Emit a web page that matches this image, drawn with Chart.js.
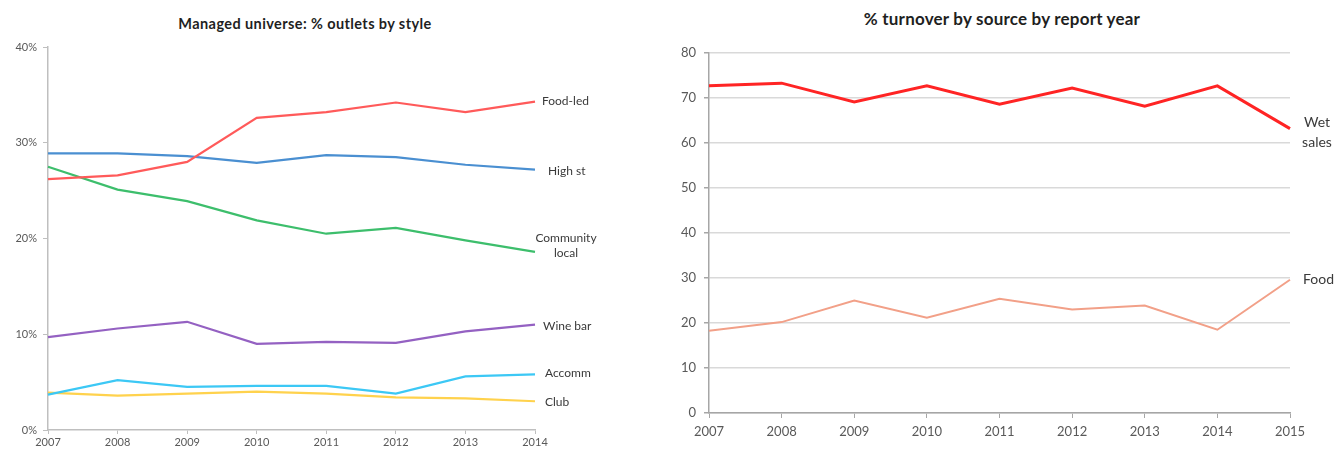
<!DOCTYPE html>
<html>
<head>
<meta charset="utf-8">
<script src="https://cdn.jsdelivr.net/npm/chart.js@4.4.1/dist/chart.umd.min.js"></script>
<style>
  body { margin: 0; background: #fff; width: 1336px; height: 449px; overflow: hidden; position: relative; font-family: Lato, sans-serif; }
  .box { position: absolute; top: 0; }
  .title { position: absolute; font-weight: bold; color: #1f1f1f; white-space: nowrap; transform: translate(-50%, -50%); }
</style>
</head>
<body>

<div class="title" style="left:305px; top:23px; font-size:14.5px; letter-spacing:0.4px;">Managed universe: % outlets by style</div>
<div class="title" style="left:1002px; top:18px; font-size:17px; letter-spacing:0.2px;">% turnover by source by report year</div>

<div class="box" style="left:0px"><canvas id="leftChart" width="640" height="449"></canvas></div>
<div class="box" style="left:640px"><canvas id="rightChart" width="696" height="449"></canvas></div>

<script>
// Left chart data

var styleYears = ['2007', '2008', '2009', '2010', '2011', '2012', '2013', '2014']
var foodLed = [26.2, 26.6, 28.0, 32.6, 33.2, 34.2, 33.2, 34.3]
var highSt = [28.9, 28.9, 28.6, 27.9, 28.7, 28.5, 27.7, 27.2]
var communityLocal = [27.5, 25.1, 23.9, 21.9, 20.5, 21.1, 19.8, 18.6]
var wineBar = [9.7, 10.6, 11.3, 9.0, 9.2, 9.1, 10.3, 11.0]
var accomm = [3.7, 5.2, 4.5, 4.6, 4.6, 3.8, 5.6, 5.8]
var club = [3.9, 3.6, 3.8, 4.0, 3.8, 3.4, 3.3, 3.0]
var styleTicks = [0, 10, 20, 30, 40]

// Right chart data

var reportYears = ['2007', '2008', '2009', '2010', '2011', '2012', '2013', '2014', '2015']
var wetSales = [72.7, 73.3, 69.1, 72.7, 68.6, 72.2, 68.2, 72.7, 63.2]
var food = [18.3, 20.2, 25.0, 21.2, 25.4, 23.0, 23.9, 18.5, 29.6]
var turnoverTicks = [0, 10, 20, 30, 40, 50, 60, 70, 80]

var axisGrey = '#BFBFBF'
var tickColor = '#595959'

// Draws each series name next to its last point

var endLabels = {
    id: 'endLabels',
    afterDatasetsDraw(chart, args, opts) {
        var ctx = chart.ctx
        var xScale = chart.scales.x
        var yScale = chart.scales.y
        ctx.save()
        ctx.fillStyle = opts.color
        ctx.font = opts.font
        ctx.textBaseline = 'middle'
        chart.data.datasets.forEach((ds, i) => {
            var n = ds.data.length - 1
            var px = xScale.getPixelForValue(n)
            var py = yScale.getPixelForValue(ds.data[n])
            var spec = opts.labels[i]
            ctx.textAlign = spec.align || 'left'
            spec.lines.forEach((line, j) => {
                ctx.fillText(line, px + spec.dx, py + spec.dy + j * opts.lineHeight)
            })
        })
        ctx.restore()
    }
}

function fixedWidth(w) {
    return scale => { scale.width = w }
}

function fixedHeight(h) {
    return scale => { scale.height = h }
}

// Left chart

var leftData = {
    labels: styleYears,
    datasets: [
        { label: 'Food-led', data: foodLed, borderColor: '#FF5A5A' },
        { label: 'High st', data: highSt, borderColor: '#4A8FD1' },
        { label: 'Community local', data: communityLocal, borderColor: '#3DBE6C' },
        { label: 'Wine bar', data: wineBar, borderColor: '#9461C2' },
        { label: 'Accomm', data: accomm, borderColor: '#3CC8F5' },
        { label: 'Club', data: club, borderColor: '#FFD24D' },
    ]
}

new Chart(document.getElementById('leftChart'), {
    type: 'line',
    data: leftData,
    plugins: [endLabels],
    options: {
        responsive: false,
        animation: false,
        devicePixelRatio: 1,
        layout: { padding: { top: 47, right: 105, left: 0, bottom: 0 } },
        elements: {
            line: { borderWidth: 2.2, tension: 0 },
            point: { radius: 0 }
        },
        plugins: {
            legend: { display: false },
            tooltip: { enabled: false },
            endLabels: {
                color: '#3a3a3a',
                font: '12px Lato, sans-serif',
                lineHeight: 15,
                labels: [
                    { lines: ['Food-led'], dx: 7, dy: 0 },
                    { lines: ['High st'], dx: 13, dy: 2 },
                    { lines: ['Community', 'local'], dx: 31, dy: -14, align: 'center' },
                    { lines: ['Wine bar'], dx: 8, dy: 1 },
                    { lines: ['Accomm'], dx: 10, dy: -1 },
                    { lines: ['Club'], dx: 10, dy: 1 },
                ]
            }
        },
        scales: {
            x: {
                afterFit: fixedHeight(19),
                border: { color: axisGrey, width: 1.5 },
                grid: { drawOnChartArea: false, color: axisGrey, tickLength: 4 },
                ticks: { color: tickColor, font: { family: 'Lato', size: 11 }, padding: 2, maxRotation: 0 }
            },
            y: {
                min: 0,
                max: 40,
                afterFit: fixedWidth(48),
                afterBuildTicks: axis => { axis.ticks = styleTicks.map(v => ({ value: v })) },
                border: { color: axisGrey, width: 1.5 },
                grid: { drawOnChartArea: false, color: axisGrey, tickLength: 5 },
                ticks: { color: tickColor, font: { family: 'Lato', size: 11 }, padding: 6, callback: v => v + '%' }
            }
        }
    }
})

// Right chart

var rightData = {
    labels: reportYears,
    datasets: [
        { label: 'Wet sales', data: wetSales, borderColor: '#FF2424', borderWidth: 3 },
        { label: 'Food', data: food, borderColor: '#F2A088', borderWidth: 2 },
    ]
}

new Chart(document.getElementById('rightChart'), {
    type: 'line',
    data: rightData,
    plugins: [endLabels],
    options: {
        responsive: false,
        animation: false,
        devicePixelRatio: 1,
        layout: { padding: { top: 53, right: 46, left: 0, bottom: 0 } },
        elements: {
            line: { tension: 0 },
            point: { radius: 0 }
        },
        plugins: {
            legend: { display: false },
            tooltip: { enabled: false },
            endLabels: {
                color: '#3a3a3a',
                font: '14px Lato, sans-serif',
                lineHeight: 20,
                labels: [
                    { lines: ['Wet', 'sales'], dx: 27, dy: -6, align: 'center' },
                    { lines: ['Food'], dx: 13, dy: 0 },
                ]
            }
        },
        scales: {
            x: {
                afterFit: fixedHeight(36),
                border: { color: '#A6A6A6', width: 1.5 },
                grid: { drawOnChartArea: false, color: '#A6A6A6', tickLength: 5 },
                ticks: { color: tickColor, font: { family: 'Lato', size: 13 }, padding: 6, maxRotation: 0 }
            },
            y: {
                min: 0,
                max: 80,
                afterFit: fixedWidth(69),
                afterBuildTicks: axis => { axis.ticks = turnoverTicks.map(v => ({ value: v })) },
                border: { color: '#A6A6A6', width: 1.5 },
                grid: { color: '#D9D9D9', lineWidth: 1.5, tickLength: 5, tickColor: '#A6A6A6' },
                ticks: { color: tickColor, font: { family: 'Lato', size: 13 }, padding: 8 }
            }
        }
    }
})
</script>
</body>
</html>
